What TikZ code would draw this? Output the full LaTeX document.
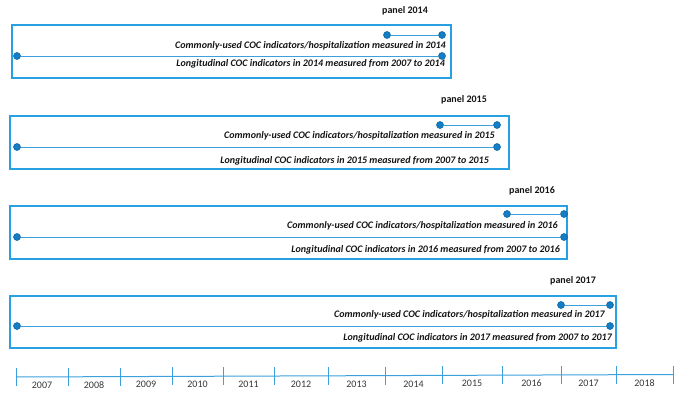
\documentclass[tikz,border=0pt]{standalone}
\usepackage{fontspec}
\setmainfont{Carlito}
\definecolor{boxblue}{RGB}{40,160,225}
\definecolor{lineblue}{RGB}{60,160,220}
\definecolor{dotfill}{RGB}{20,125,195}
\definecolor{dotedge}{RGB}{0,95,160}
\definecolor{txt}{RGB}{20,20,20}
\tikzset{
  panelbox/.style={draw=boxblue, line width=1.5pt},
  dot/.style={circle, fill=dotfill, draw=dotedge, line width=0.5pt, inner sep=0pt, minimum size=7pt},
  conn/.style={draw=lineblue, line width=0.8pt},
  desc/.style={font=\fontsize{10}{12}\selectfont\bfseries\itshape, text=txt, inner sep=0pt, anchor=east},
  ptitle/.style={font=\fontsize{10}{12}\selectfont\bfseries, text=txt, inner sep=0pt},
  yearlbl/.style={font=\fontsize{10}{12}\selectfont, text=txt!85, inner sep=0pt},
  axisline/.style={draw=lineblue, line width=1pt},
  tickline/.style={draw=lineblue, line width=1pt}
}
\begin{document}
\begin{tikzpicture}[x=1pt,y=-1pt]
\useasboundingbox (0,0) rectangle (685,404);
% panel 2014
\node[ptitle] (t14) at (405,11) {panel 2014};
\draw[panelbox] (12,25) rectangle (451,78);
\node[dot] (a14) at (387,35) {};
\node[dot] (b14) at (442,35) {};
\node[dot] (c14) at (17,56) {};
\node[dot] (e14) at (442,56) {};
\draw[conn] (a14) -- (b14);
\draw[conn] (c14) -- (e14);
\node[desc] (x14) at (446,46) {Commonly-used COC indicators/hospitalization measured in 2014};
\node[desc] (y14) at (445,64) {Longitudinal COC indicators in 2014 measured from 2007 to 2014};
% panel 2015
\node[ptitle] (t15) at (464,100) {panel 2015};
\draw[panelbox] (10,116) rectangle (509,169);
\node[dot] (a15) at (440,125) {};
\node[dot] (b15) at (497,125) {};
\node[dot] (c15) at (17,147) {};
\node[dot] (e15) at (497,147) {};
\draw[conn] (a15) -- (b15);
\draw[conn] (c15) -- (e15);
\node[desc] (x15) at (495,136) {Commonly-used COC indicators/hospitalization measured in 2015};
\node[desc] (y15) at (489,161) {Longitudinal COC indicators in 2015 measured from 2007 to 2015};
% panel 2016
\node[ptitle] (t16) at (532,191) {panel 2016};
\draw[panelbox] (10,206) rectangle (567,259);
\node[dot] (a16) at (507,214) {};
\node[dot] (b16) at (564,214) {};
\node[dot] (c16) at (17,237) {};
\node[dot] (e16) at (564,237) {};
\draw[conn] (a16) -- (b16);
\draw[conn] (c16) -- (e16);
\node[desc] (x16) at (558,226) {Commonly-used COC indicators/hospitalization measured in 2016};
\node[desc] (y16) at (560,250) {Longitudinal COC indicators in 2016 measured from 2007 to 2016};
% panel 2017
\node[ptitle] (t17) at (573,281) {panel 2017};
\draw[panelbox] (10,296) rectangle (616,348);
\node[dot] (a17) at (561,305) {};
\node[dot] (b17) at (610,305) {};
\node[dot] (c17) at (17,326) {};
\node[dot] (e17) at (610,326) {};
\draw[conn] (a17) -- (b17);
\draw[conn] (c17) -- (e17);
\node[desc] (x17) at (605,315) {Commonly-used COC indicators/hospitalization measured in 2017};
\node[desc] (y17) at (612,338) {Longitudinal COC indicators in 2017 measured from 2007 to 2017};
% timeline
\coordinate (axL) at (16,377);
\coordinate (axR) at (673,374.5);
\draw[axisline] (axL) -- (axR);
\foreach \tx [count=\i] in {16,68,120,172,223,274,328,385,442,502,561,616,673}{
  \pgfmathsetmacro{\ty}{377-2.5*(\tx-16)/657}
  \draw[tickline] (\tx,\ty-9) -- (\tx,\ty+9);
}
\foreach \a/\b/\yr in {16/68/2007,68/120/2008,120/172/2009,172/223/2010,223/274/2011,274/328/2012,328/385/2013,385/442/2014,442/502/2015,502/561/2016,561/616/2017,616/673/2018}{
  \pgfmathsetmacro{\mx}{(\a+\b)/2}
  \pgfmathsetmacro{\my}{385-2*(\mx-16)/657}
  \node[yearlbl] (yr\yr) at (\mx,\my) {\yr};
}
\end{tikzpicture}
\end{document}
